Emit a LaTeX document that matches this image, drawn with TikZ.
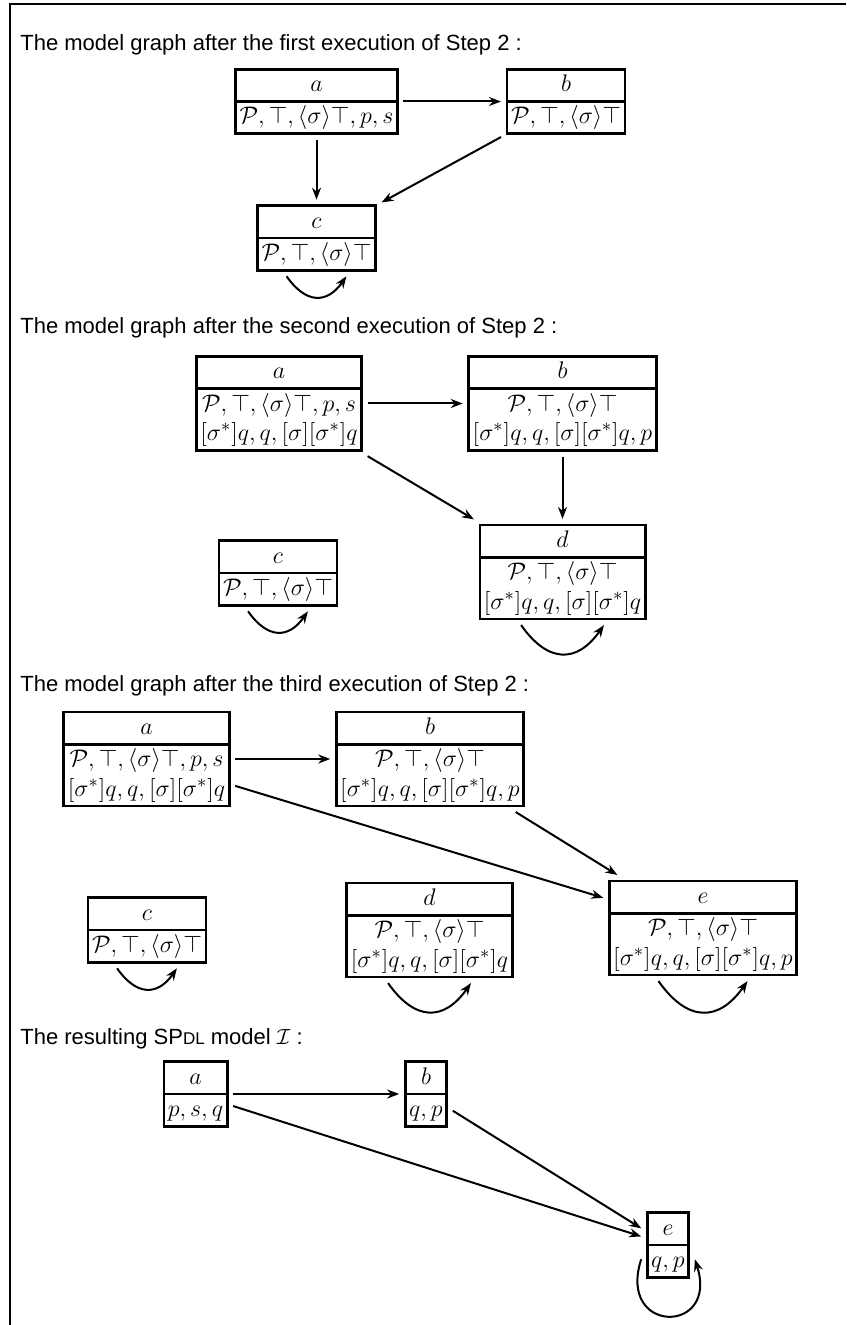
\documentclass[tikz,border=0pt]{standalone}
\usepackage{amsmath}
\usepackage{amssymb}
\usepackage{fontspec}
\setmainfont{Liberation Sans}
\usepackage{tikz}
\usetikzlibrary{shapes.multipart}
\usetikzlibrary{arrows.meta}
\newcommand{\rowstrut}{\vrule height 10.5pt depth 4.25pt width 0pt}
\newcommand{\ptop}{\mathcal{P},\top,\langle\sigma\rangle\top}
\newcommand{\boxq}{[\sigma^*]q,q,[\sigma][\sigma^*]q}
\tikzset{
  world/.style={
    rectangle split, rectangle split parts=2, draw, line width=1.4pt,
    inner xsep=2pt, inner ysep=0pt, align=center, outer sep=3pt,
    font=\fontsize{12.5}{14.75}\selectfont
  },
  trans/.style={-{Stealth[length=6pt,width=4.5pt]}, line width=1pt},
  selfloop/.style={trans, out=-55, in=-125, looseness=1.45},
  caption/.style={anchor=base west, inner sep=0pt, font=\fontsize{11}{13}\selectfont},
}

\begin{document}
\begin{tikzpicture}[x=0.5pt,y=-0.5pt]
\useasboundingbox (0,0) rectangle (846,1325);
\draw[line width=1.3pt] (846,4) -- (10,4) -- (10,1325);

%%%%%%%%%%%%%%%%%%%%%%%%%%%%%%%%%%%%%%%%%%%%%%%%%%%%%%%%%%%%%% first run
\node[caption] (t1) at (20,51) {The model graph after the first execution of Step 2 :};

\node[world] (a1) at (316.5,101.5) {\rowstrut$a$\nodepart{two}\rowstrut$\ptop,p,s$};
\node[world] (b1) at (566,101.5) {\rowstrut$b$\nodepart{two}\rowstrut$\ptop$};
\node[world] (c1) at (316.5,238) {\rowstrut$c$\nodepart{two}\rowstrut$\ptop$};

\draw[trans] (a1) -- (b1);
\draw[trans] (a1) -- (c1);
\draw[trans] (b1) -- (c1);
\draw[selfloop] (c1.-128) to (c1.-52);

%%%%%%%%%%%%%%%%%%%%%%%%%%%%%%%%%%%%%%%%%%%%%%%%%%%%%%%%%%%%%% second run
\node[caption] (t2) at (20,334) {The model graph after the second execution of Step 2 :};

\node[world] (a2) at (279,403.5) {\rowstrut$a$\nodepart{two}\rowstrut$\ptop,p,s$\\\rowstrut$\boxq$};
\node[world] (b2) at (562.5,403.5) {\rowstrut$b$\nodepart{two}\rowstrut$\ptop$\\\rowstrut$\boxq,p$};
\node[world] (c2) at (278,573) {\rowstrut$c$\nodepart{two}\rowstrut$\ptop$};
\node[world] (d2) at (562.5,572) {\rowstrut$d$\nodepart{two}\rowstrut$\ptop$\\\rowstrut$\boxq$};

\draw[trans] (a2) -- (b2);
\draw[trans] (a2) -- (d2);
\draw[trans] (b2) -- (d2);
\draw[selfloop] (c2.-128) to (c2.-52);
\draw[selfloop] (d2.-128) to (d2.-52);

%%%%%%%%%%%%%%%%%%%%%%%%%%%%%%%%%%%%%%%%%%%%%%%%%%%%%%%%%%%%%% third run
\node[caption] (t3) at (20,691) {The model graph after the third execution of Step 2 :};

\node[world] (a3) at (146.5,759) {\rowstrut$a$\nodepart{two}\rowstrut$\ptop,p,s$\\\rowstrut$\boxq$};
\node[world] (b3) at (430,759) {\rowstrut$b$\nodepart{two}\rowstrut$\ptop$\\\rowstrut$\boxq,p$};
\node[world] (c3) at (147,930) {\rowstrut$c$\nodepart{two}\rowstrut$\ptop$};
\node[world] (d3) at (429.5,930) {\rowstrut$d$\nodepart{two}\rowstrut$\ptop$\\\rowstrut$\boxq$};
\node[world] (e3) at (703,928) {\rowstrut$e$\nodepart{two}\rowstrut$\ptop$\\\rowstrut$\boxq,p$};

\draw[trans] (a3) -- (b3);
\draw[trans] (a3) -- (e3);
\draw[trans] (b3) -- (e3);
\draw[selfloop] (c3.-128) to (c3.-52);
\draw[selfloop] (d3.-128) to (d3.-52);
\draw[selfloop] (e3.-130) to (e3.-50);

%%%%%%%%%%%%%%%%%%%%%%%%%%%%%%%%%%%%%%%%%%%%%%%%%%%%%%%%%%%%%% the model
\node[caption] (t4) at (20,1044) {The resulting SP{\fontsize{8.5}{10}\selectfont DL} model $\mathcal{I}$ :};

\node[world] (a4) at (195.5,1094) {\rowstrut$a$\nodepart{two}\rowstrut$p,s,q$};
\node[world] (b4) at (426,1094) {\rowstrut$b$\nodepart{two}\rowstrut$q,p$};
\node[world] (e4) at (668,1245) {\rowstrut$e$\nodepart{two}\rowstrut$q,p$};

\draw[trans] (a4) -- (b4);
\draw[trans] (a4) -- (e4);
\draw[trans] (b4) -- (e4);
\draw[trans] (e4.-152) to[out=-108, in=-72, looseness=3.8] (e4.-28);

\end{tikzpicture}
\end{document}
